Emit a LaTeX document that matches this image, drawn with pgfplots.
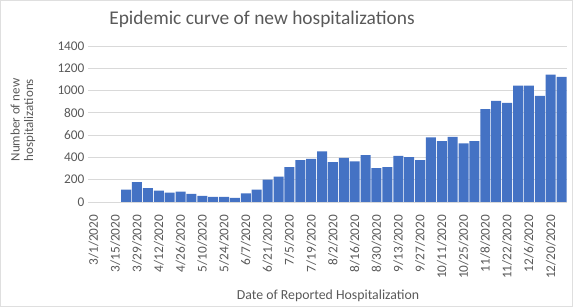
\documentclass[border=0pt]{standalone}
\usepackage{fontspec}
\setmainfont{Carlito}
\usepackage{pgfplots}
\pgfplotsset{compat=1.18}
\definecolor{barblue}{HTML}{4472C4}
\definecolor{txt}{HTML}{595959}
\definecolor{gridc}{HTML}{D9D9D9}
\begin{document}
\begin{tikzpicture}[x=1pt,y=1pt]
\useasboundingbox (0,0) rectangle (573,307);
\draw[gray!25, line width=0.8pt] (0.5,0.5) rectangle (572.5,306.5);
\begin{axis}[at={(88pt,105pt)}, anchor=south west, scale only axis,
  width=479pt, height=156pt,
  xmin=-0.5, xmax=43.5, ymin=0, ymax=1400,
  ytick={0,200,...,1400},
  xtick={0,2,...,42},
  xticklabels={3/1/2020,3/15/2020,3/29/2020,4/12/2020,4/26/2020,5/10/2020,5/24/2020,6/7/2020,6/21/2020,7/5/2020,7/19/2020,8/2/2020,8/16/2020,8/30/2020,9/13/2020,9/27/2020,10/11/2020,10/25/2020,11/8/2020,11/22/2020,12/6/2020,12/20/2020},
  xticklabel shift=5pt,
  x tick label style={rotate=90, anchor=east, font=\fontsize{13.3}{14}\selectfont, text=txt},
  y tick label style={font=\fontsize{13.3}{14}\selectfont, text=txt},
  /pgf/number format/assume math mode=true,
  /pgf/number format/1000 sep={},
  ybar, bar width=10pt,
  axis x line*=bottom, axis y line*=left,
  x axis line style={draw=gridc, line width=0.8pt},
  y axis line style={draw=none},
  major tick style={draw=none},
  ymajorgrids, grid style={draw=gridc, line width=0.8pt},
  clip=false,
]
\addplot[fill=barblue, draw=none] coordinates {
(3,110) (4,179) (5,125) (6,101) (7,84) (8,93) (9,72) (10,54) (11,45) (12,45)
(13,36) (14,78) (15,110) (16,200) (17,227) (18,313) (19,376) (20,388) (21,454) (22,358)
(23,397) (24,364) (25,421) (26,304) (27,313) (28,415) (29,403) (30,376) (31,579) (32,546)
(33,585) (34,525) (35,546) (36,833) (37,907) (38,890) (39,1045) (40,1045) (41,952) (42,1143)
(43,1122)
};
\end{axis}
\node[font=\fontsize{19.4}{21}\selectfont, text=txt] at (262,288) {Epidemic curve of new hospitalizations};
\node[font=\fontsize{13.8}{15}\selectfont, text=txt] at (328,11) {Date of Reported Hospitalization};
\node[font=\fontsize{13}{13.5}\selectfont, text=txt, rotate=90, align=center] at (23,187) {Number of new\\hospitalizations};
\end{tikzpicture}
\end{document}
